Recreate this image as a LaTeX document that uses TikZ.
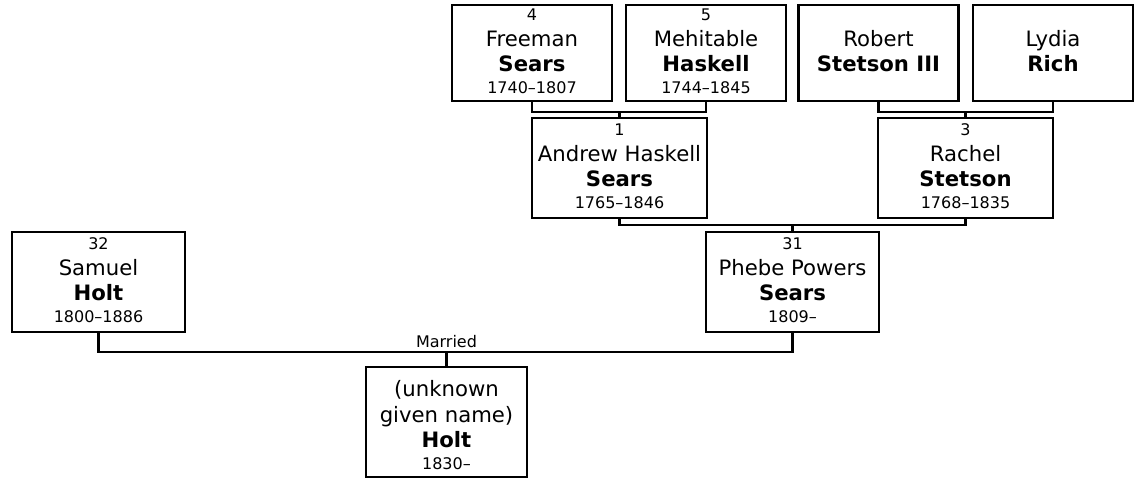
\documentclass[tikz,border=0pt]{standalone}
\usepackage{fontspec}
\setmainfont{DejaVu Sans}
\usetikzlibrary{calc}
\newdimen\px \px=0.75pt
\newcommand\fnum{\fontsize{12pt}{14pt}\selectfont}
\newcommand\fname{\fontsize{15.9pt}{18pt}\selectfont}
\newcommand\pl[3]{\hbox to\hsize{\hss\vrule height #1 depth #2 width 0pt\smash{#3}\hss}}
% #1 width (px), #2 pad (px), #3 number, #4 given, #5 surname, #6 dates
\newcommand\person[6]{\vbox{\hsize=#1\px \offinterlineskip
  \pl{\dimexpr 15.7\px+#2\px\relax}{0pt}{\fnum #3}%
  \pl{25.5\px}{0pt}{\fname #4}%
  \pl{25\px}{0pt}{\fname\bfseries #5}%
  \pl{22\px}{\dimexpr 7.8\px+#2\px\relax}{\fnum #6}}}
\begin{document}
\begin{tikzpicture}[x=0.75pt,y=-0.75pt,
  pbox/.style={draw=black,line width=1.65pt,inner sep=0pt,outer sep=0pt,fill=white},
  conn/.style={draw=black,line width=1.65pt},
  lab/.style={inner sep=0pt,font=\fnum}]
\useasboundingbox (0,0) rectangle (1137,478);
% top row
\node[pbox] (f4) at (532,53) {\person{160}{0}{4}{Freeman}{Sears}{1740–1807}};
\node[pbox] (f5) at (706,53) {\person{160}{0}{5}{Mehitable}{Haskell}{1744–1845}};
\node[pbox] (f6) at (878.5,53) {\person{160}{0}{}{Robert}{Stetson III}{}};
\node[pbox] (f7) at (1053,53) {\person{160}{0}{}{Lydia}{Rich}{}};
% second row
\node[pbox] (f1) at (619.5,168) {\person{175}{2}{1}{Andrew Haskell}{Sears}{1765–1846}};
\node[pbox] (f3) at (965.5,168) {\person{175}{2}{3}{Rachel}{Stetson}{1768–1835}};
% third row
\node[pbox] (f31) at (792.5,282) {\person{173}{2}{31}{Phebe Powers}{Sears}{1809–}};
\node[pbox] (f32) at (98.5,282) {\person{173}{2}{32}{Samuel}{Holt}{1800–1886}};
% child
\node[pbox] (ch) at (446.5,422) {\vbox{\hsize=161\px \offinterlineskip
  \pl{29\px}{0pt}{\fname (unknown}%
  \pl{26\px}{0pt}{\fname given name)}%
  \pl{25\px}{0pt}{\fname\bfseries Holt}%
  \pl{22\px}{8\px}{\fnum 1830–}}};
% connectors
\draw[conn] (f4.south) -- ++(0,11) coordinate (j45) -| (f5.south);
\draw[conn] (f1.north) -- (f1.north |- j45);
\draw[conn] (f6.south) -- ++(0,11) coordinate (j67) -| (f7.south);
\draw[conn] (f3.north) -- (f3.north |- j67);
\draw[conn] (f1.south) -- ++(0,7) coordinate (j13) -| (f3.south);
\draw[conn] (f31.north) -- (f31.north |- j13);
\draw[conn] (f32.south) -- ++(0,20) coordinate (jm) -| (f31.south);
\draw[conn] (ch.north) -- (ch.north |- jm);
\node[lab,anchor=base] (mar) at ($(ch.north |- jm)+(0,-5)$) {Married};
\end{tikzpicture}
\end{document}
